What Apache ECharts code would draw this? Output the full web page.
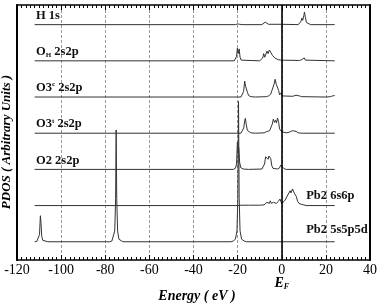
<!DOCTYPE html>
<html>
<head>
<meta charset="utf-8">
<script src="https://cdn.jsdelivr.net/npm/echarts@6/dist/echarts.min.js"></script>
<style>
html,body{margin:0;padding:0;background:#fff;}
#chart{width:380px;height:308px;}
</style>
</head>
<body>
<div id="chart"></div>
<script>
// ---- Data (energy in eV, PDOS in arbitrary units) ----
const xTickLabels = [-120, -100, -80, -60, -40, -20, 0, 20, 40];
const seriesLabels = ['H 1s', 'O_H 2s2p', 'O3c 2s2p', 'O3t 2s2p', 'O2 2s2p', 'Pb2 6s6p', 'Pb2 5s5p5d'];
const offsets = [6, 5, 4, 3, 2, 1, 0];

const h1s = [[-112,0],[-21,0],[-20,0.02],[-19.5,0.03],[-19,0.01],[-18,0],[-9,0],[-8.2,0.03],[-7.5,0.07],[-6.8,0.03],[-6,0.01],[0,0.01],[7.5,0],[8.3,0.03],[8.8,0.1],[9.1,0.18],[9.5,0.12],[10,0.25],[10.3,0.35],[10.7,0.2],[11.2,0.06],[12,0.02],[13,0],[24,0]];
const oh = [[-112,0],[-21.5,0],[-21,0.03],[-20.5,0.12],[-20.1,0.35],[-19.7,0.2],[-19.3,0.33],[-18.9,0.1],[-18.4,0.02],[-17.5,0],[-10,0],[-9.2,0.02],[-8.6,0.08],[-8.2,0.2],[-7.7,0.1],[-7.2,0.15],[-6.7,0.27],[-6.2,0.2],[-5.6,0.3],[-5.2,0.35],[-4.7,0.25],[-4.2,0.15],[-3.7,0.18],[-3.2,0.08],[-2.5,0.04],[-1.6,0.03],[-0.9,0.06],[-0.4,0.02],[0,0.01],[8,0.01],[9,0.03],[9.6,0.02],[10.2,0.08],[10.7,0.02],[11.5,0],[24,0]];
const o3c = [[-112,0],[-18.5,0],[-17.8,0.04],[-17.3,0.15],[-16.8,0.44],[-16.4,0.3],[-16.0,0.33],[-15.5,0.12],[-15,0.04],[-14,0.01],[-12,0],[-7,0.01],[-6,0.03],[-5,0.08],[-4.5,0.17],[-4,0.2],[-3.5,0.35],[-3.0,0.49],[-2.5,0.35],[-1.9,0.32],[-1.4,0.18],[-1.0,0.06],[-0.5,0.1],[-0.2,0.12],[0.2,0.03],[1,0.01],[5,0.02],[6.5,0.05],[7.3,0.09],[8,0.03],[9,0.01],[20,0],[22,0.01],[23,0.03],[24,0.04]];
const o3t = [[-112,0],[-18.5,0],[-17.8,0.04],[-17.2,0.15],[-16.8,0.35],[-16.5,0.41],[-16.1,0.25],[-15.6,0.08],[-15,0.03],[-14,0.01],[-12,0],[-8,0.01],[-7,0.04],[-6.5,0.06],[-5.5,0.07],[-4.8,0.12],[-4.3,0.25],[-3.8,0.39],[-3.3,0.3],[-2.8,0.36],[-2.4,0.28],[-1.9,0.42],[-1.4,0.3],[-1.0,0.12],[-0.5,0.08],[0,0.04],[0.5,0.02],[2,0.01],[3.5,0.03],[4.8,0.07],[5.7,0.09],[6.5,0.05],[7.5,0.01],[9,0],[24,0]];
const o2 = [[-112,0],[-22,0],[-21,0.03],[-20.5,0.15],[-20.1,0.75],[-19.8,0.45],[-19.5,0.6],[-19.1,0.2],[-18.6,0.05],[-17.5,0.01],[-15,0],[-9,0.01],[-8.3,0.04],[-7.8,0.15],[-7.3,0.35],[-7.0,0.39],[-6.5,0.3],[-6.2,0.28],[-5.8,0.37],[-5.5,0.4],[-5.0,0.3],[-4.5,0.1],[-4,0.03],[-2,0.01],[-1,0.04],[-0.5,0.12],[0,0.16],[0.4,0.1],[1,0.02],[2,0],[24,0]];
const pb6s6p = [[-112,0],[-20,0],[-18,0.01],[-15,0.01],[-10,0.01],[-8,0.02],[-7.3,0.05],[-6.7,0.09],[-6.2,0.04],[-5.6,0.06],[-5.2,0.13],[-4.7,0.06],[-4.2,0.05],[-3.7,0.09],[-3.1,0.04],[-2.5,0.06],[-1.5,0.12],[-0.8,0.18],[-0.4,0.12],[0,0.05],[0.6,0.07],[1.5,0.15],[2.3,0.2],[3,0.32],[3.8,0.41],[4.2,0.35],[4.9,0.46],[5.4,0.38],[6.0,0.4],[6.6,0.25],[7.2,0.12],[7.8,0.06],[9,0.03],[10,0.02],[11,0],[24,0]];
const pb5s5p5d = [[-112,0],[-111,0.01],[-110.3,0.05],[-109.8,0.2],[-109.4,0.72],[-109.1,0.5],[-108.8,0.15],[-108.3,0.04],[-107.5,0.01],[-106,0],[-78,0],[-77,0.02],[-76.2,0.07],[-75.7,0.3],[-75.3,1.2],[-75.05,3.09],[-74.8,1.2],[-74.4,0.3],[-73.8,0.07],[-73,0.02],[-72,0],[-23,0],[-22,0.02],[-21,0.07],[-20.3,0.3],[-19.9,1.2],[-19.6,3.88],[-19.3,1.2],[-18.9,0.3],[-18.2,0.07],[-17,0.02],[-16,0],[24,0]];

const allData = [h1s, oh, o3c, o3t, o2, pb6s6p, pb5s5p5d];
// label anchor (energy) per series; left-side labels vs right-side labels
const labelX = [-111.4, -111.4, -111.4, -111.4, -111.4, 11.1, 11.1];

const SERIF = '"Liberation Serif","Times New Roman",serif';
const chart = echarts.init(document.getElementById('chart'), null, {renderer: 'canvas'});

const series = allData.map((d, i) => ({
  type: 'line',
  name: seriesLabels[i],
  data: d.map(p => [p[0], p[1] + offsets[i]]),
  showSymbol: false,
  symbol: 'none',
  lineStyle: {color: '#333', width: 1},
  silent: true,
  animation: false,
  z: 3
}));
series[6].markLine = {
  silent: true, symbol: 'none', animation: false,
  label: {show: false},
  lineStyle: {color: '#000', width: 1.6, type: 'solid'},
  data: [{xAxis: 0}]
};

const xBase = {
  type: 'value', min: xTickLabels[0], max: xTickLabels[xTickLabels.length - 1], interval: 20,
  axisLine: {show: true, onZero: false, lineStyle: {color: '#000', width: 1.6}},
  axisTick: {show: true, inside: true, length: 5, lineStyle: {color: '#000', width: 1}},
  minorTick: {show: true, splitNumber: 10, length: 3, lineStyle: {color: '#000', width: 1}}
};

const option = {
  animation: false,
  backgroundColor: '#fff',
  grid: {left: 17, right: 8, top: 5, bottom: 47, containLabel: false},
  xAxis: [
    Object.assign({}, xBase, {
      position: 'bottom',
      axisLabel: {show: true, color: '#000', fontFamily: SERIF, fontSize: 14, margin: 3},
      splitLine: {show: true, lineStyle: {color: '#999', width: 1, type: [3, 2]}},
      name: 'Energy ( eV )', nameLocation: 'middle', nameGap: 29,
      nameTextStyle: {color: '#000', fontFamily: SERIF, fontSize: 14, fontWeight: 'bold', fontStyle: 'italic', padding: [0, 0, 0, 7]}
    }),
    Object.assign({}, xBase, {
      position: 'top',
      axisLabel: {show: false},
      splitLine: {show: false}
    })
  ],
  yAxis: [
    {type: 'value', min: -0.504, max: 6.543, position: 'left',
     axisLine: {show: true, onZero: false, lineStyle: {color: '#000', width: 2}},
     axisTick: {show: false}, axisLabel: {show: false}, splitLine: {show: false}},
    {type: 'value', min: -0.504, max: 6.543, position: 'right',
     axisLine: {show: true, onZero: false, lineStyle: {color: '#000', width: 2}},
     axisTick: {show: false}, axisLabel: {show: false}, splitLine: {show: false}}
  ],
  series: series
};
chart.setOption(option);

// ---- Labels anchored to data coordinates ----
const richStyle = {
  m: {fontFamily: SERIF, fontSize: 12.5, fontWeight: 'bold', fill: '#111', color: '#111'},
  sub: {fontFamily: SERIF, fontSize: 7, fontWeight: 'bold', color: '#111', padding: [7, 0, 0, 0]},
  sup: {fontFamily: SERIF, fontSize: 7, fontWeight: 'bold', color: '#111', padding: [0, 0, 7, 0]}
};
const richTexts = [
  '{m|H 1s}',
  '{m|O}{sub|H}{m| 2s2p}',
  '{m|O3}{sup|c}{m| 2s2p}',
  '{m|O3}{sup|t}{m| 2s2p}',
  '{m|O2 2s2p}',
  '{m|Pb2 6s6p}',
  '{m|Pb2 5s5p5d}'
];
const labelRise = [9, 9, 9, 9, 9, 10, 11.5];
const graphics = richTexts.map((t, i) => {
  const p = chart.convertToPixel({gridIndex: 0}, [labelX[i], offsets[i]]);
  return {
    type: 'text', x: p[0], y: p[1] - labelRise[i], silent: true,
    style: {text: t, rich: richStyle, align: 'left', verticalAlign: 'middle', fill: '#111'}
  };
});
const ef = chart.convertToPixel({gridIndex: 0}, [0, -0.504]);
graphics.push({
  type: 'text', x: ef[0], y: ef[1] + 23, silent: true,
  style: {
    text: '{e|E}{f|F}', align: 'center', verticalAlign: 'middle',
    rich: {
      e: {fontFamily: SERIF, fontSize: 14, fontWeight: 'bold', fontStyle: 'italic', color: '#000'},
      f: {fontFamily: SERIF, fontSize: 8, fontWeight: 'bold', fontStyle: 'italic', color: '#000', padding: [8, 0, 0, 0]}
    }
  }
});
graphics.push({
  type: 'text', x: 7, y: 142, rotation: Math.PI / 2, silent: true,
  style: {
    text: 'PDOS ( Arbitrary Units )', align: 'center', verticalAlign: 'middle',
    fontFamily: SERIF, fontSize: 13, fontWeight: 'bold', fontStyle: 'italic', fill: '#000'
  }
});
chart.setOption({graphic: graphics});
</script>
</body>
</html>
